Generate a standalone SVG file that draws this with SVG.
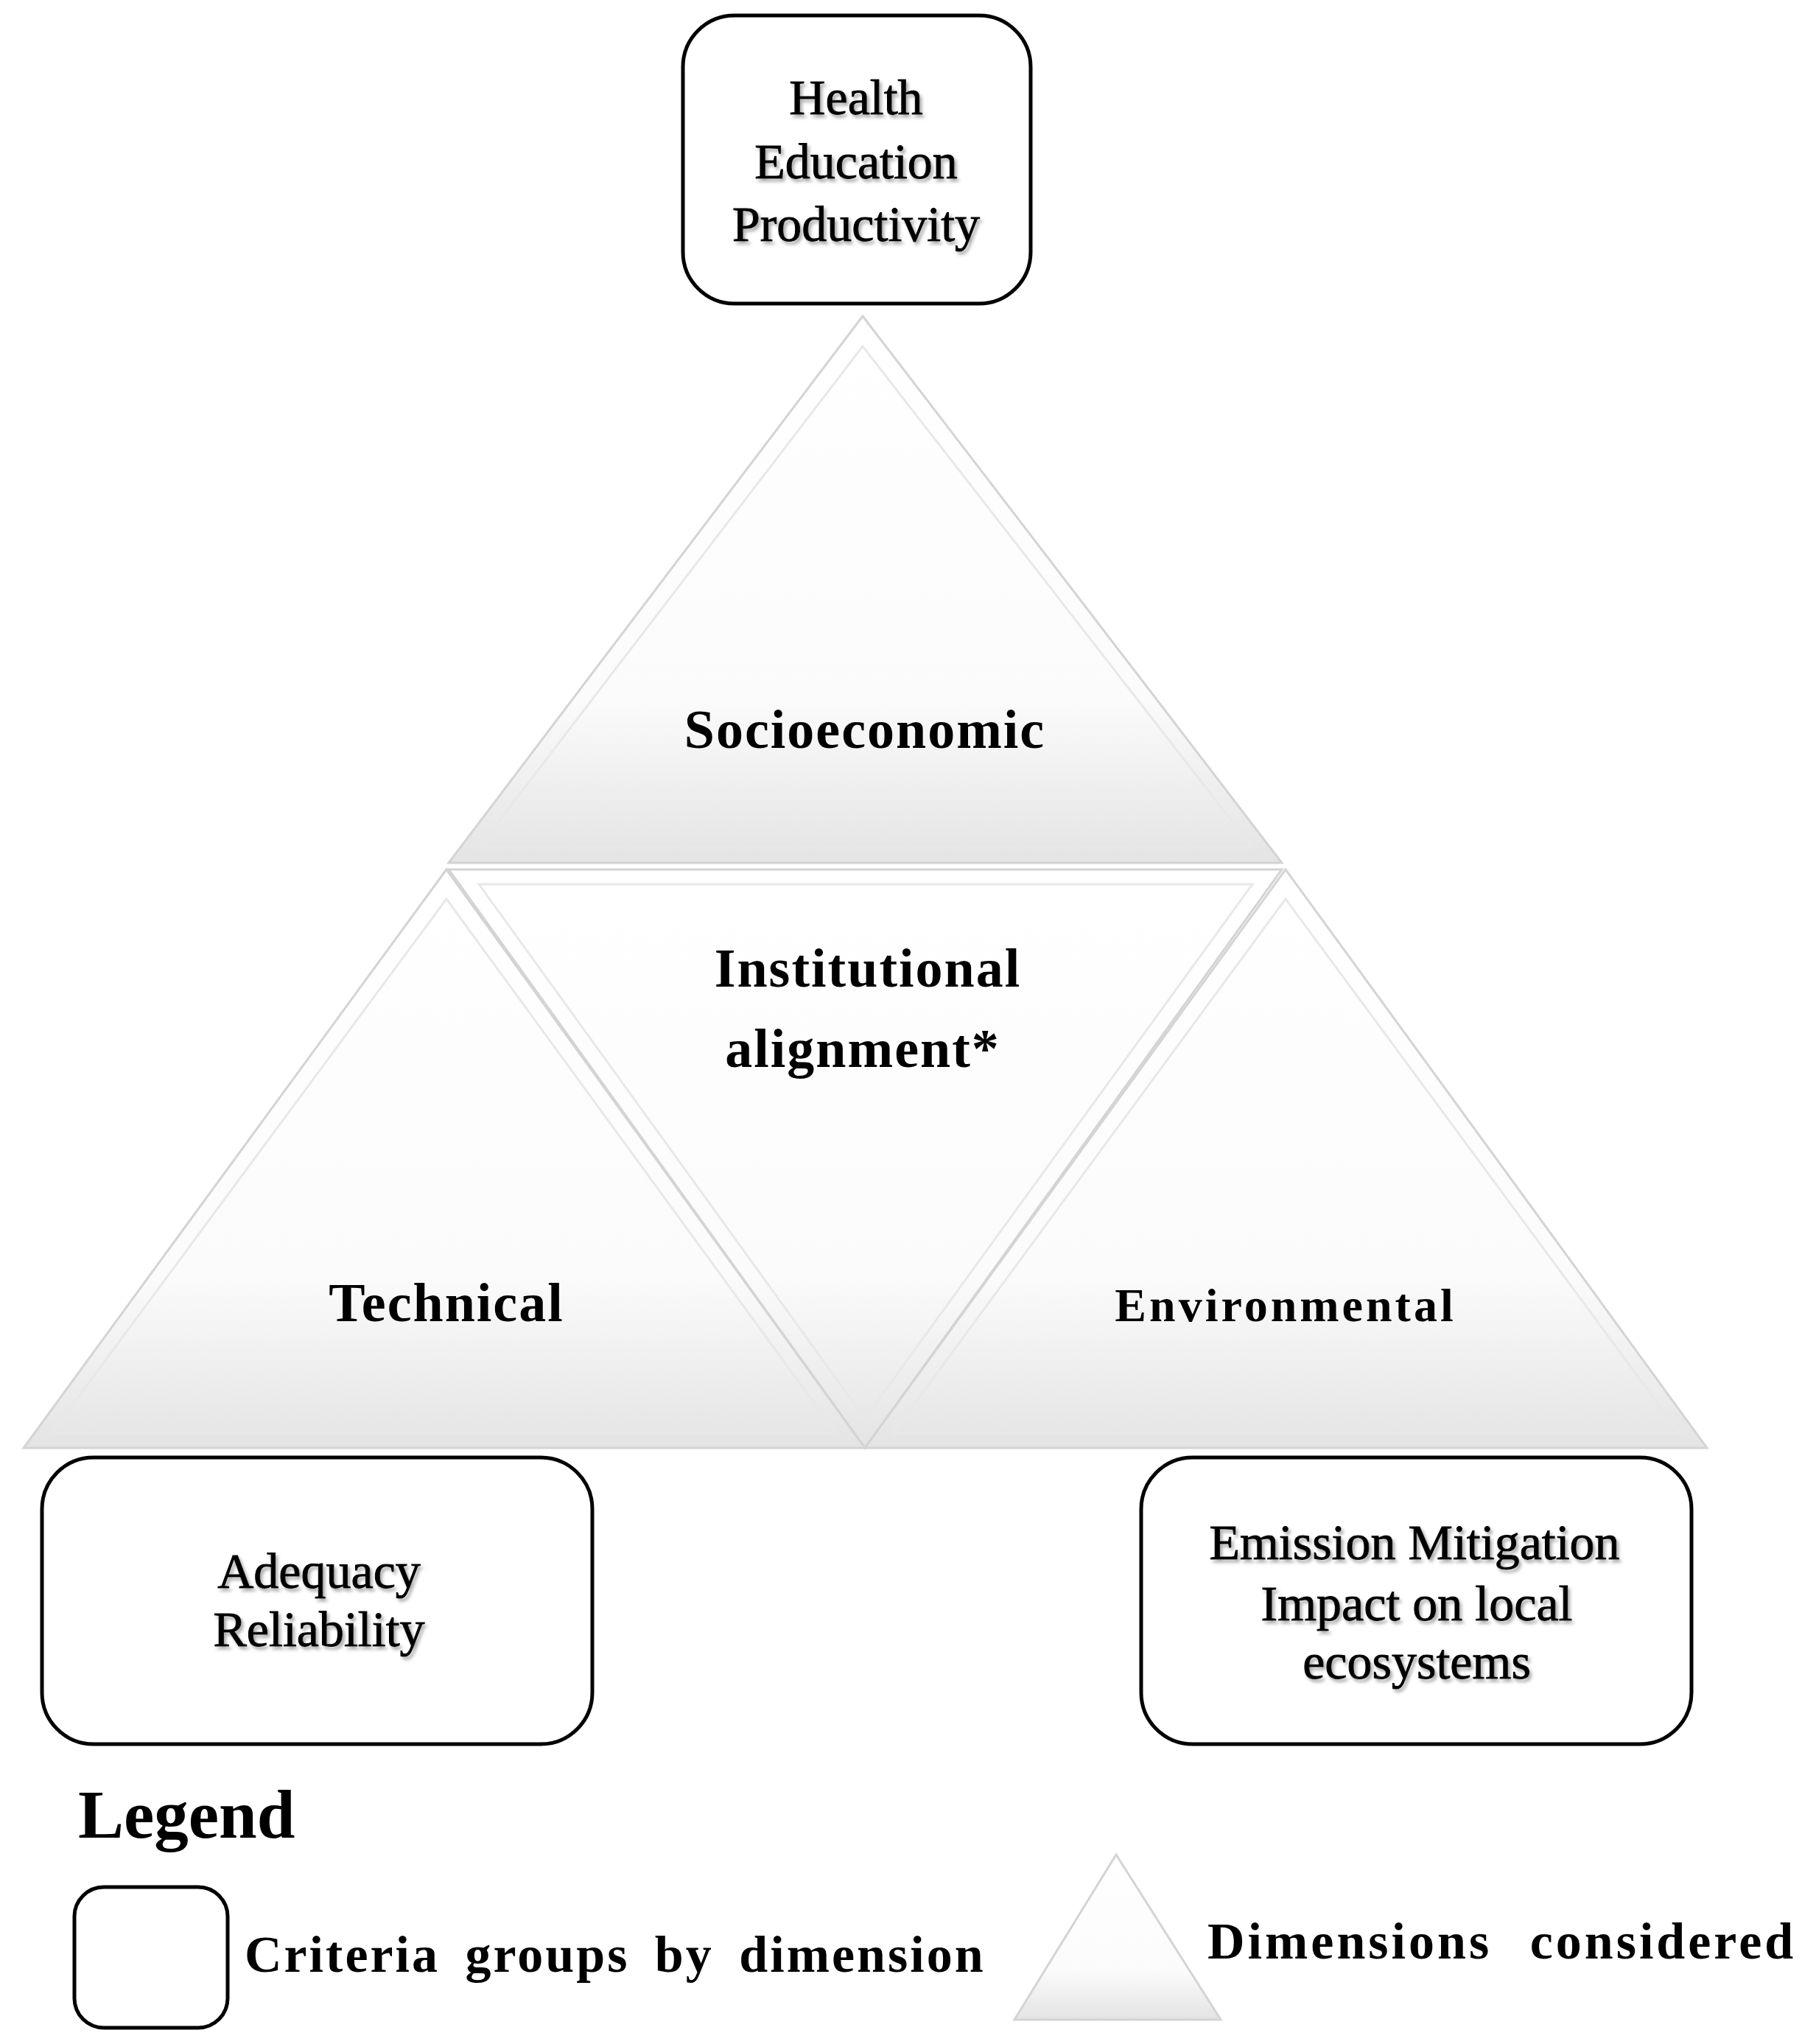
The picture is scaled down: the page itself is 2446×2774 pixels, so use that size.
<svg xmlns="http://www.w3.org/2000/svg" width="2446" height="2774" viewBox="0 0 2446 2774">
<defs>
<linearGradient id="tg" x1="0" y1="0" x2="0" y2="1">
<stop offset="0" stop-color="#ffffff"/><stop offset="0.7" stop-color="#fbfbfb"/><stop offset="1" stop-color="#e4e4e4"/>
</linearGradient>
<filter id="sh" x="-10%" y="-10%" width="130%" height="130%"><feDropShadow dx="3" dy="4" stdDeviation="2" flood-color="#888" flood-opacity="0.7"/></filter>
</defs>
<style>
.box{fill:#fff;stroke:#000;stroke-width:5}
.tri{fill:url(#tg);stroke:#d4d4d4;stroke-width:3}
.bev{fill:none;stroke:#e8e8e8;stroke-width:3}
.t{font-family:"Liberation Serif",serif;text-anchor:middle;fill:#000}
.n{font-size:68px;filter:url(#sh);stroke:#000;stroke-width:1}
.b{font-size:74px;font-weight:bold;letter-spacing:2px}
.lg{font-family:"Liberation Serif",serif;font-weight:bold;fill:#000}
</style>
<rect width="2446" height="2774" fill="#fff"/>
<g id="connectors"/>
<g id="top-tri"><polygon class="tri" points="1171,429 609,1171 1740,1171"/><polygon class="bev" points="1171,470 650,1150 1700,1150"/><text class="t b" x="1174" y="1015">Socioeconomic</text></g>
<g id="mid-tri"><polygon class="tri" points="609,1180 1740,1180 1174,1965"/><polygon class="bev" points="650,1200 1700,1200 1174,1925"/><text class="t b" x="1178" y="1339">Institutional</text><text class="t b" x="1171" y="1448">alignment*</text></g>
<g id="left-tri"><polygon class="tri" points="606,1180 32,1965 1174,1965"/><polygon class="bev" points="606,1220 70,1945 1135,1945"/><text class="t b" x="606" y="1793">Technical</text></g>
<g id="right-tri"><polygon class="tri" points="1745,1180 1174,1965 2317,1965"/><polygon class="bev" points="1745,1220 1212,1945 2280,1945"/><text class="t b" x="1745" y="1793" style="font-size:64px;letter-spacing:4px">Environmental</text></g>
<g id="top-box"><rect class="box" x="927" y="21" width="472" height="391" rx="70"/><text class="t n" x="1162" y="155">Health</text><text class="t n" x="1162" y="242">Education</text><text class="t n" x="1162" y="327">Productivity</text></g>
<g id="left-box"><rect class="box" x="57" y="1978" width="747" height="389" rx="70"/><text class="t n" x="433" y="2155">Adequacy</text><text class="t n" x="433" y="2234">Reliability</text></g>
<g id="right-box"><rect class="box" x="1549" y="1978" width="747" height="389" rx="70"/><text class="t n" x="1920" y="2116">Emission Mitigation</text><text class="t n" x="1923" y="2199">Impact on local</text><text class="t n" x="1923" y="2278">ecosystems</text></g>
<g id="legend">
<text class="lg" x="106" y="2494" font-size="93">Legend</text>
<rect class="box" x="101" y="2561" width="208" height="191" rx="40"/>
<text class="lg" x="332" y="2676" font-size="70" style="letter-spacing:3px;word-spacing:14px">Criteria groups by dimension</text>
<polygon class="tri" points="1515,2517 1377,2741 1657,2741"/>
<text class="lg" x="1639" y="2658" font-size="70" style="letter-spacing:4px;word-spacing:30px">Dimensions considered</text>
</g>
</svg>
